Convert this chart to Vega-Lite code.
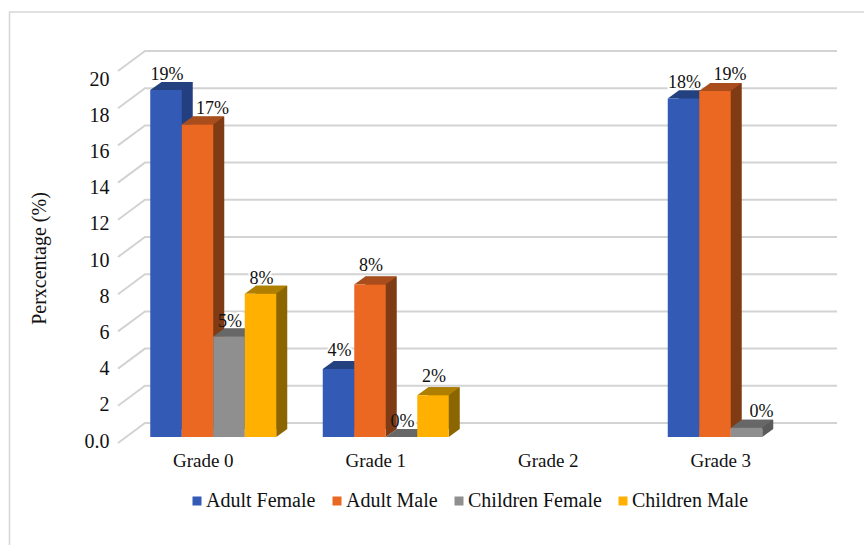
{"$schema":"https://vega.github.io/schema/vega-lite/v6.json","width":719,"height":392,"autosize":"none","padding":{"left":118,"top":51,"right":27,"bottom":102},"background":"white","config":{"view":{"stroke":null},"font":"Liberation Serif"},
"datasets":{
"bars":[
{"grade":"Grade 0","series":"Adult Female","value":18.65,"label":"19%","shift":"n"},
{"grade":"Grade 0","series":"Adult Male","value":16.8,"label":"17%","shift":"y"},
{"grade":"Grade 0","series":"Children Female","value":5.4,"label":"5%","shift":"n"},
{"grade":"Grade 0","series":"Children Male","value":7.7,"label":"8%","shift":"n"},
{"grade":"Grade 1","series":"Adult Female","value":3.65,"label":"4%","shift":"u"},
{"grade":"Grade 1","series":"Adult Male","value":8.2,"label":"8%","shift":"u"},
{"grade":"Grade 1","series":"Children Female","value":0,"label":"0%","shift":"n"},
{"grade":"Grade 1","series":"Children Male","value":2.25,"label":"2%","shift":"u"},
{"grade":"Grade 3","series":"Adult Female","value":18.2,"label":"18%","shift":"n"},
{"grade":"Grade 3","series":"Adult Male","value":18.6,"label":"19%","shift":"y"},
{"grade":"Grade 3","series":"Children Female","value":0.5,"label":"0%","shift":"y"}
],
"walls":[
{"level":0,"wall":0,"h":-1.075},{"level":0,"wall":1,"h":0},{"level":0,"wall":2,"h":0},
{"level":2,"wall":0,"h":0.925},{"level":2,"wall":1,"h":2},{"level":2,"wall":2,"h":2},
{"level":4,"wall":0,"h":2.925},{"level":4,"wall":1,"h":4},{"level":4,"wall":2,"h":4},
{"level":6,"wall":0,"h":4.925},{"level":6,"wall":1,"h":6},{"level":6,"wall":2,"h":6},
{"level":8,"wall":0,"h":6.925},{"level":8,"wall":1,"h":8},{"level":8,"wall":2,"h":8},
{"level":10,"wall":0,"h":8.925},{"level":10,"wall":1,"h":10},{"level":10,"wall":2,"h":10},
{"level":12,"wall":0,"h":10.925},{"level":12,"wall":1,"h":12},{"level":12,"wall":2,"h":12},
{"level":14,"wall":0,"h":12.925},{"level":14,"wall":1,"h":14},{"level":14,"wall":2,"h":14},
{"level":16,"wall":0,"h":14.925},{"level":16,"wall":1,"h":16},{"level":16,"wall":2,"h":16},
{"level":18,"wall":0,"h":16.925},{"level":18,"wall":1,"h":18},{"level":18,"wall":2,"h":18},
{"level":20,"wall":0,"h":18.925},{"level":20,"wall":1,"h":20},{"level":20,"wall":2,"h":20}
],
"frame":[{"fx":0,"fy":0},{"fx":0,"fy":1},{"fx":1,"fy":1}]
},
"resolve":{"scale":{"x":"independent","y":"independent","xOffset":"independent","color":"independent"}},
"layer":[
{"data":{"name":"frame"},"mark":{"type":"line","color":"#d6d6d6","strokeWidth":1.5,"clip":false},
"encoding":{"x":{"field":"fx","type":"quantitative","axis":null,"scale":{"domain":[0,1],"range":[-108.5,746]}},"y":{"field":"fy","type":"quantitative","axis":null,"scale":{"domain":[0,1],"range":[494,-39]}},"order":{"field":"fy"}}},
{"data":{"name":"walls"},"mark":{"type":"line","color":"#d3d3d3","strokeWidth":2},
"encoding":{"x":{"field":"wall","type":"quantitative","axis":null,"scale":{"domain":[0,1,2],"range":[0,27,719]}},"y":{"field":"h","type":"quantitative","axis":null,"scale":{"domain":[-1.075,20],"range":[392,0]}},"detail":{"field":"level"},"order":{"field":"wall"}}},
{"data":{"name":"walls"},"transform":[{"filter":"datum.wall==2"}],"mark":{"type":"rule","opacity":0},
"encoding":{"y":{"field":"level","type":"quantitative","scale":{"domain":[-0.11,21.547],"range":[392,0],"nice":false,"zero":false},"axis":{"orient":"left","values":[0,2,4,6,8,10,12,14,16,18,20],"domain":false,"ticks":false,"grid":false,"labelPadding":9,"labelFontSize":20,"labelColor":"#111","labelFont":"Liberation Serif","labelExpr":"datum.value==0?'0.0':datum.label","title":"Perxcentage (%)","titleFont":"Liberation Serif","titleFontSize":20,"titleFontWeight":"normal","titleColor":"#111","titleX":-69,"titleY":207}}}},
{"data":{"name":"bars"},"transform":[{"filter":"datum.shift=='n'"}],"mark":{"type":"text","font":"Liberation Serif","fontSize":18,"baseline":"alphabetic","dy":-10,"dx":1,"stroke":"white","strokeWidth":4,"fill":"white"},
"encoding":{"x":{"field":"grade","type":"nominal","axis":null,"scale":{"type":"band","domain":["Grade 0","Grade 1","Grade 2","Grade 3"],"range":[9,699],"padding":0}},"xOffset":{"field":"series","type":"nominal","scale":{"type":"band","domain":["Adult Female","Adult Male","Children Female","Children Male"],"paddingInner":0,"paddingOuter":0.738}},"y":{"field":"value","type":"quantitative","axis":null,"scale":{"domain":[-0.3226,20.753],"range":[392,0],"nice":false,"zero":false}},"text":{"field":"label"}}},
{"data":{"name":"bars"},"transform":[{"filter":"datum.shift=='u'"}],"mark":{"type":"text","font":"Liberation Serif","fontSize":18,"baseline":"alphabetic","dy":-13,"dx":1,"stroke":"white","strokeWidth":4,"fill":"white"},
"encoding":{"x":{"field":"grade","type":"nominal","axis":null,"scale":{"type":"band","domain":["Grade 0","Grade 1","Grade 2","Grade 3"],"range":[9,699],"padding":0}},"xOffset":{"field":"series","type":"nominal","scale":{"type":"band","domain":["Adult Female","Adult Male","Children Female","Children Male"],"paddingInner":0,"paddingOuter":0.738}},"y":{"field":"value","type":"quantitative","axis":null,"scale":{"domain":[-0.3226,20.753],"range":[392,0],"nice":false,"zero":false}},"text":{"field":"label"}}},
{"data":{"name":"bars"},"transform":[{"filter":"datum.value>0"}],"mark":{"type":"bar"},
"encoding":{"x":{"field":"grade","type":"nominal","axis":null,"scale":{"domain":["Grade 0","Grade 1","Grade 2","Grade 3"],"range":[20,710],"padding":0}},"xOffset":{"field":"series","type":"nominal","scale":{"domain":["Adult Female","Adult Male","Children Female","Children Male"],"paddingInner":0,"paddingOuter":0.738}},"y":{"field":"value","type":"quantitative","axis":null,"scale":{"domain":[-0.753,20.323],"range":[392,0],"nice":false,"zero":false}},"y2":{"datum":0},"color":{"field":"series","type":"nominal","legend":null,"scale":{"domain":["Adult Female","Adult Male","Children Female","Children Male"],"range":["#233F80","#7E3B14","#5A5A5A","#8A6500"]}}}},
{"data":{"name":"bars"},"mark":{"type":"point","filled":true,"opacity":1,"size":1806,"shape":"M0.741,0L1.259,-0.376L0.741,-0.376Z"},
"encoding":{"x":{"field":"grade","type":"nominal","axis":null,"scale":{"type":"band","domain":["Grade 0","Grade 1","Grade 2","Grade 3"],"range":[9,699],"padding":0}},"xOffset":{"field":"series","type":"nominal","scale":{"type":"band","domain":["Adult Female","Adult Male","Children Female","Children Male"],"paddingInner":0,"paddingOuter":0.738}},"y":{"datum":0,"type":"quantitative","axis":null,"scale":{"domain":[-0.3226,20.753],"range":[392,0],"nice":false,"zero":false}},"color":{"field":"series","type":"nominal","legend":null,"scale":{"domain":["Adult Female","Adult Male","Children Female","Children Male"],"range":["#233F80","#7E3B14","#5A5A5A","#8A6500"]}}}},
{"data":{"name":"bars"},"mark":{"type":"point","filled":true,"opacity":1,"size":1806,"shape":"M-0.741,0L0.741,0L1.259,-0.376L-0.2235,-0.376Z"},
"encoding":{"x":{"field":"grade","type":"nominal","axis":null,"scale":{"type":"band","domain":["Grade 0","Grade 1","Grade 2","Grade 3"],"range":[9,699],"padding":0}},"xOffset":{"field":"series","type":"nominal","scale":{"type":"band","domain":["Adult Female","Adult Male","Children Female","Children Male"],"paddingInner":0,"paddingOuter":0.738}},"y":{"field":"value","type":"quantitative","axis":null,"scale":{"domain":[-0.3226,20.753],"range":[392,0],"nice":false,"zero":false}},"color":{"field":"series","type":"nominal","legend":null,"scale":{"domain":["Adult Female","Adult Male","Children Female","Children Male"],"range":["#23407F","#A84D1B","#676767","#AE7F00"]}}}},
{"data":{"name":"bars"},"mark":{"type":"bar"},
"encoding":{"x":{"field":"grade","type":"nominal","scale":{"domain":["Grade 0","Grade 1","Grade 2","Grade 3"],"range":[9,699],"padding":0},"axis":{"orient":"bottom","title":null,"domain":false,"ticks":false,"grid":false,"labelAngle":0,"labelFont":"Liberation Serif","labelFontSize":19,"labelColor":"#111","labelOffset":-10,"labelPadding":8}},"xOffset":{"field":"series","type":"nominal","scale":{"domain":["Adult Female","Adult Male","Children Female","Children Male"],"paddingInner":0,"paddingOuter":0.738}},"y":{"field":"value","type":"quantitative","axis":null,"scale":{"domain":[-0.3226,20.753],"range":[392,0],"nice":false,"zero":false}},"y2":{"datum":0},"color":{"field":"series","type":"nominal","scale":{"domain":["Adult Female","Adult Male","Children Female","Children Male"],"range":["#335AB5","#EB6823","#8F8F8F","#FFB000"]},"legend":{"title":null,"orient":"none","legendX":69,"legendY":440,"direction":"horizontal","columns":4,"symbolType":"square","symbolSize":81,"symbolStrokeWidth":0,"labelFont":"Liberation Serif","labelFontSize":20,"labelColor":"#111","labelOffset":-1,"columnPadding":11,"padding":0,"labelLimit":300}}}},
{"data":{"name":"bars"},"transform":[{"filter":"datum.shift=='n'"}],"mark":{"type":"text","font":"Liberation Serif","fontSize":18,"baseline":"alphabetic","dy":-10,"dx":1,"color":"#111"},
"encoding":{"x":{"field":"grade","type":"nominal","axis":null,"scale":{"type":"band","domain":["Grade 0","Grade 1","Grade 2","Grade 3"],"range":[9,699],"padding":0}},"xOffset":{"field":"series","type":"nominal","scale":{"type":"band","domain":["Adult Female","Adult Male","Children Female","Children Male"],"paddingInner":0,"paddingOuter":0.738}},"y":{"field":"value","type":"quantitative","axis":null,"scale":{"domain":[-0.3226,20.753],"range":[392,0],"nice":false,"zero":false}},"text":{"field":"label"}}},
{"data":{"name":"bars"},"transform":[{"filter":"datum.shift=='u'"}],"mark":{"type":"text","font":"Liberation Serif","fontSize":18,"baseline":"alphabetic","dy":-13,"dx":1,"color":"#111"},
"encoding":{"x":{"field":"grade","type":"nominal","axis":null,"scale":{"type":"band","domain":["Grade 0","Grade 1","Grade 2","Grade 3"],"range":[9,699],"padding":0}},"xOffset":{"field":"series","type":"nominal","scale":{"type":"band","domain":["Adult Female","Adult Male","Children Female","Children Male"],"paddingInner":0,"paddingOuter":0.738}},"y":{"field":"value","type":"quantitative","axis":null,"scale":{"domain":[-0.3226,20.753],"range":[392,0],"nice":false,"zero":false}},"text":{"field":"label"}}},
{"data":{"name":"bars"},"transform":[{"filter":"datum.shift=='y'"}],"mark":{"type":"text","font":"Liberation Serif","fontSize":18,"baseline":"alphabetic","dy":-11,"dx":15,"color":"#111"},
"encoding":{"x":{"field":"grade","type":"nominal","axis":null,"scale":{"type":"band","domain":["Grade 0","Grade 1","Grade 2","Grade 3"],"range":[9,699],"padding":0}},"xOffset":{"field":"series","type":"nominal","scale":{"type":"band","domain":["Adult Female","Adult Male","Children Female","Children Male"],"paddingInner":0,"paddingOuter":0.738}},"y":{"field":"value","type":"quantitative","axis":null,"scale":{"domain":[-0.3226,20.753],"range":[392,0],"nice":false,"zero":false}},"text":{"field":"label"}}}
]}
